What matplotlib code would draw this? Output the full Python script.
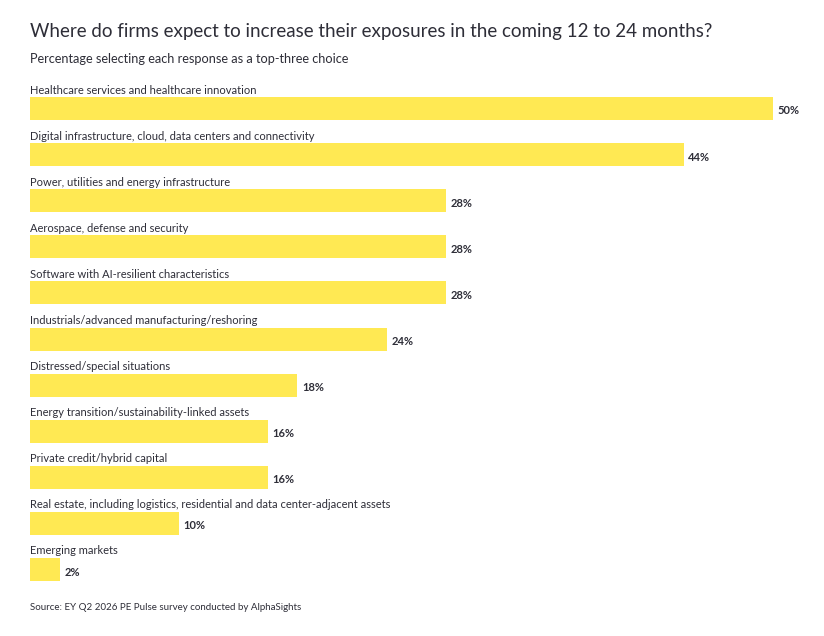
import matplotlib.pyplot as plt

categories = [
    "Healthcare services and healthcare innovation",
    "Digital infrastructure, cloud, data centers and connectivity",
    "Power, utilities and energy infrastructure",
    "Aerospace, defense and security",
    "Software with AI-resilient characteristics",
    "Industrials/advanced manufacturing/reshoring",
    "Distressed/special situations",
    "Energy transition/sustainability-linked assets",
    "Private credit/hybrid capital",
    "Real estate, including logistics, residential and data center-adjacent assets",
    "Emerging markets",
]
values = [50, 44, 28, 28, 28, 24, 18, 16, 16, 10, 2]

W, H = 824, 636
fig = plt.figure(figsize=(W / 100, H / 100), dpi=100)
plt.rcParams['font.family'] = ['Lato', 'DejaVu Sans']

# axes spans full height in pixel units; x from 30px to 773px maps 0..50
x0, x1 = 30, 773
ax = fig.add_axes([x0 / W, 0, (x1 - x0) / W, 1])
ax.set_xlim(0, 50)
ax.set_ylim(H, 0)
ax.axis("off")

row0, step, bh = 108.5, 46.1, 23
ys = [row0 + i * step for i in range(len(values))]
ax.barh(ys, values, height=bh, color="#FFE953", left=0)
for y, v, c in zip(ys, values, categories):
    ax.text(0, y - bh / 2 - 1.5, c, fontsize=8, color="#2e2e38", va="bottom")
    ax.text(v + 0.3, y + 2.5, f"{v}%", fontsize=8, fontweight="bold",
            color="#2e2e38", va="center")

fig.text(30 / W, 1 - 32 / H, "Where do firms expect to increase their exposures in the coming 12 to 24 months?",
         fontsize=13.5, color="#2e2e38", va="center")
fig.text(30 / W, 1 - 59 / H, "Percentage selecting each response as a top-three choice",
         fontsize=9.2, color="#2e2e38", va="center")
fig.text(30 / W, 1 - 607 / H, "Source: EY Q2 2026 PE Pulse survey conducted by AlphaSights",
         fontsize=7, color="#2e2e38", va="center")

fig.savefig("out.png", dpi=100, facecolor="white")
